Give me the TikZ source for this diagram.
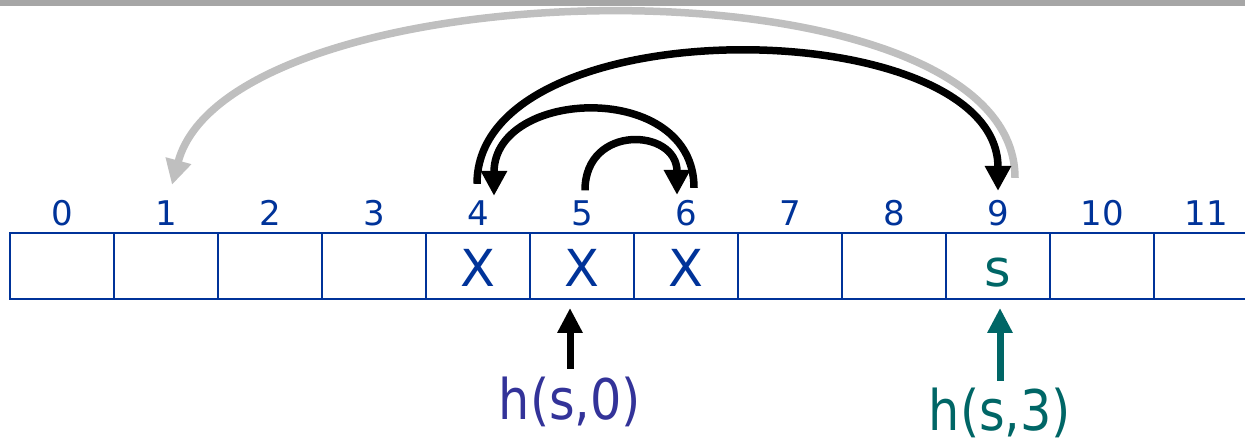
\documentclass[tikz,border=0pt]{standalone}
\usepackage{fontspec}
\setmainfont{DejaVu Sans}
\newfontfamily\hashfont{DejaVu Sans}[FakeStretch=0.88]
\usepackage{tikz}
\usetikzlibrary{calc,positioning,arrows.meta}
\definecolor{cellblue}{HTML}{003399}
\definecolor{hashindigo}{HTML}{333399}
\definecolor{probeteal}{HTML}{006666}
\definecolor{hopgray}{HTML}{BFBFBF}
\definecolor{bargray}{HTML}{A6A6A6}

\begin{document}
\begin{tikzpicture}[x=1pt,y=1pt,
  cell/.style={draw=cellblue,line width=2.8pt,minimum width=104pt,minimum height=66pt,
    inner sep=0pt,outer sep=0pt,text height=42pt,text depth=0pt,
    font=\fontsize{51}{51}\selectfont,text=cellblue},
  idx/.style={inner sep=0pt,text=cellblue,font=\fontsize{34}{34}\selectfont},
  hop/.style={line width=7.5pt,-{Triangle[width=25pt,length=25pt]}},
  probe/.style={line width=7pt,-{Triangle[width=24pt,length=25pt]}},
  hlabel/.style={inner sep=0pt,font=\hashfont\fontsize{56}{56}\selectfont}]
  \useasboundingbox (0,0) rectangle (1245,442);
  \fill[bargray] (0,436) rectangle (1245,442);
  \foreach \i/\t in {0/,1/,2/,3/,4/X,5/X,6/X,7/,8/,9/{\textcolor{probeteal}{s}},10/,11/}{
    \node[cell] (c\i) at ({62+104*\i},176) {\t};
    \node[idx,above=7pt of c\i] (n\i) {\i};
  }
  \draw[hop,hopgray] ([shift={(17,22)}]n9.north) to[out=90,in=75,looseness=0.69] ([shift={(6,16)}]n1.north);
  \draw[hop] ([shift={(-1,17)}]n4.north) to[out=90,in=90,looseness=0.88] ([shift={(0,9)}]n9.north);
  \draw[hop] ([shift={(8,12)}]n6.north) to[out=90,in=90,looseness=1.38] ([shift={(16,5)}]n4.north);
  \draw[hop] ([shift={(3,10)}]n5.north) to[out=90,in=90,looseness=1.85] ([shift={(-9,5)}]n6.north);
  \node[hlabel,text=hashindigo] (l0) at (570,40) {h(s,0)};
  \node[hlabel,text=probeteal] (l3) at (1000,29) {h(s,3)};
  \draw[probe] ([yshift=8pt]l0.north) -- ($(l0.north |- c5.south)+(0,-9)$);
  \draw[probe,probeteal] ([yshift=7pt]l3.north) -- ($(l3.north |- c9.south)+(0,-9)$);
\end{tikzpicture}
\end{document}
